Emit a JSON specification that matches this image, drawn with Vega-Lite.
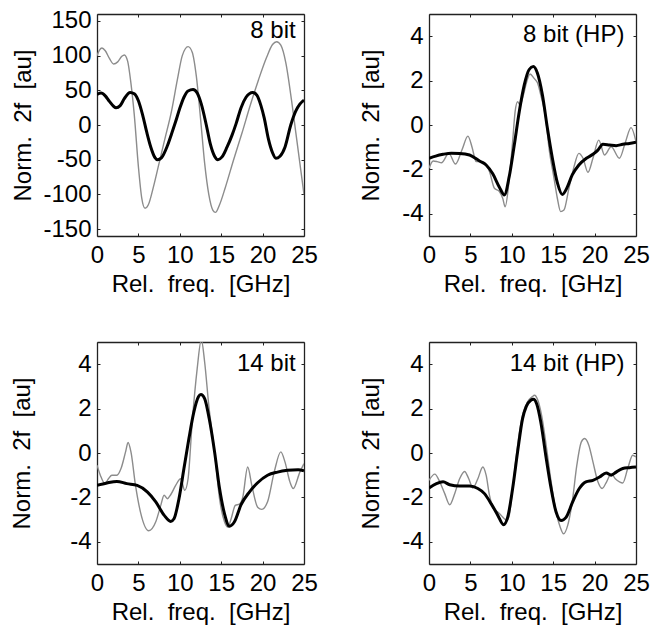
{
  "$schema": "https://vega.github.io/schema/vega-lite/v6.json",
  "padding": {"left": 10, "top": 8, "right": 5, "bottom": 5},
  "background": "white",
  "columns": 2,
  "bounds": "flush",
  "spacing": {"row": 106, "column": 125},
  "datasets": {
    "curves": [
      {"p":"a","s":"g","x":0,"y":100},{"p":"a","s":"g","x":0.3,"y":108},{"p":"a","s":"g","x":0.6,"y":111},{"p":"a","s":"g","x":1.0,"y":107},{"p":"a","s":"g","x":1.5,"y":96},{"p":"a","s":"g","x":2.0,"y":88},{"p":"a","s":"g","x":2.5,"y":91},{"p":"a","s":"g","x":3.0,"y":99},{"p":"a","s":"g","x":3.3,"y":101},{"p":"a","s":"g","x":3.7,"y":92},{"p":"a","s":"g","x":4.1,"y":60},{"p":"a","s":"g","x":4.5,"y":15},{"p":"a","s":"g","x":5.0,"y":-60},{"p":"a","s":"g","x":5.4,"y":-105},{"p":"a","s":"g","x":5.8,"y":-120},{"p":"a","s":"g","x":6.2,"y":-115},{"p":"a","s":"g","x":6.8,"y":-90},{"p":"a","s":"g","x":7.5,"y":-55},{"p":"a","s":"g","x":8.2,"y":-20},{"p":"a","s":"g","x":9.0,"y":20},{"p":"a","s":"g","x":9.7,"y":65},{"p":"a","s":"g","x":10.3,"y":100},{"p":"a","s":"g","x":11.0,"y":113},{"p":"a","s":"g","x":11.5,"y":105},{"p":"a","s":"g","x":12.0,"y":70},{"p":"a","s":"g","x":12.5,"y":10},{"p":"a","s":"g","x":13.0,"y":-55},{"p":"a","s":"g","x":13.5,"y":-100},{"p":"a","s":"g","x":14.0,"y":-123},{"p":"a","s":"g","x":14.3,"y":-126},{"p":"a","s":"g","x":14.8,"y":-115},{"p":"a","s":"g","x":15.5,"y":-90},{"p":"a","s":"g","x":16.5,"y":-50},{"p":"a","s":"g","x":17.5,"y":-12},{"p":"a","s":"g","x":18.5,"y":28},{"p":"a","s":"g","x":19.5,"y":65},{"p":"a","s":"g","x":20.5,"y":98},{"p":"a","s":"g","x":21.2,"y":116},{"p":"a","s":"g","x":21.7,"y":120},{"p":"a","s":"g","x":22.2,"y":115},{"p":"a","s":"g","x":22.8,"y":90},{"p":"a","s":"g","x":23.5,"y":35},{"p":"a","s":"g","x":24.0,"y":-10},{"p":"a","s":"g","x":24.5,"y":-55},{"p":"a","s":"g","x":25.0,"y":-100},
      {"p":"a","s":"k","x":0,"y":44},{"p":"a","s":"k","x":0.5,"y":46},{"p":"a","s":"k","x":1,"y":42},{"p":"a","s":"k","x":1.5,"y":34},{"p":"a","s":"k","x":2,"y":27},{"p":"a","s":"k","x":2.3,"y":25},{"p":"a","s":"k","x":2.8,"y":28},{"p":"a","s":"k","x":3.3,"y":38},{"p":"a","s":"k","x":4,"y":47},{"p":"a","s":"k","x":4.5,"y":45},{"p":"a","s":"k","x":5,"y":35},{"p":"a","s":"k","x":5.5,"y":15},{"p":"a","s":"k","x":6,"y":-10},{"p":"a","s":"k","x":6.5,"y":-32},{"p":"a","s":"k","x":7,"y":-47},{"p":"a","s":"k","x":7.3,"y":-50},{"p":"a","s":"k","x":7.8,"y":-47},{"p":"a","s":"k","x":8.5,"y":-30},{"p":"a","s":"k","x":9,"y":-13},{"p":"a","s":"k","x":9.5,"y":5},{"p":"a","s":"k","x":10,"y":24},{"p":"a","s":"k","x":10.5,"y":40},{"p":"a","s":"k","x":11,"y":49},{"p":"a","s":"k","x":11.6,"y":51},{"p":"a","s":"k","x":12.1,"y":46},{"p":"a","s":"k","x":12.6,"y":30},{"p":"a","s":"k","x":13.2,"y":0},{"p":"a","s":"k","x":13.7,"y":-28},{"p":"a","s":"k","x":14.2,"y":-45},{"p":"a","s":"k","x":14.6,"y":-50},{"p":"a","s":"k","x":15.1,"y":-46},{"p":"a","s":"k","x":15.7,"y":-32},{"p":"a","s":"k","x":16.3,"y":-15},{"p":"a","s":"k","x":16.8,"y":2},{"p":"a","s":"k","x":17.4,"y":25},{"p":"a","s":"k","x":18,"y":40},{"p":"a","s":"k","x":18.8,"y":47},{"p":"a","s":"k","x":19.3,"y":43},{"p":"a","s":"k","x":19.8,"y":28},{"p":"a","s":"k","x":20.2,"y":10},{"p":"a","s":"k","x":20.7,"y":-20},{"p":"a","s":"k","x":21.2,"y":-40},{"p":"a","s":"k","x":21.6,"y":-48},{"p":"a","s":"k","x":22.1,"y":-45},{"p":"a","s":"k","x":22.7,"y":-32},{"p":"a","s":"k","x":23.4,"y":0},{"p":"a","s":"k","x":24,"y":20},{"p":"a","s":"k","x":24.5,"y":30},{"p":"a","s":"k","x":25,"y":36},
      {"p":"b","s":"g","x":0,"y":-1.95},{"p":"b","s":"g","x":0.5,"y":-1.62},{"p":"b","s":"g","x":1.0,"y":-1.65},{"p":"b","s":"g","x":1.5,"y":-1.7},{"p":"b","s":"g","x":2.4,"y":-1.28},{"p":"b","s":"g","x":3.2,"y":-1.76},{"p":"b","s":"g","x":4.0,"y":-1.1},{"p":"b","s":"g","x":4.7,"y":-0.5},{"p":"b","s":"g","x":5.2,"y":-1.0},{"p":"b","s":"g","x":5.7,"y":-1.65},{"p":"b","s":"g","x":6.5,"y":-1.65},{"p":"b","s":"g","x":7.3,"y":-2.1},{"p":"b","s":"g","x":7.9,"y":-2.85},{"p":"b","s":"g","x":8.5,"y":-3.0},{"p":"b","s":"g","x":8.9,"y":-3.3},{"p":"b","s":"g","x":9.2,"y":-3.68},{"p":"b","s":"g","x":9.7,"y":-2.4},{"p":"b","s":"g","x":10.1,"y":-0.75},{"p":"b","s":"g","x":10.4,"y":0.6},{"p":"b","s":"g","x":10.7,"y":1.05},{"p":"b","s":"g","x":11.0,"y":0.9},{"p":"b","s":"g","x":11.4,"y":1.35},{"p":"b","s":"g","x":11.8,"y":1.95},{"p":"b","s":"g","x":12.2,"y":2.3},{"p":"b","s":"g","x":12.7,"y":2.1},{"p":"b","s":"g","x":13.1,"y":1.9},{"p":"b","s":"g","x":13.5,"y":1.35},{"p":"b","s":"g","x":14.1,"y":0.3},{"p":"b","s":"g","x":14.5,"y":-1.05},{"p":"b","s":"g","x":15.1,"y":-2.4},{"p":"b","s":"g","x":15.5,"y":-3.3},{"p":"b","s":"g","x":15.9,"y":-3.9},{"p":"b","s":"g","x":16.3,"y":-3.83},{"p":"b","s":"g","x":16.9,"y":-2.85},{"p":"b","s":"g","x":17.5,"y":-1.9},{"p":"b","s":"g","x":18.1,"y":-1.28},{"p":"b","s":"g","x":18.6,"y":-1.5},{"p":"b","s":"g","x":19.2,"y":-2.13},{"p":"b","s":"g","x":19.8,"y":-1.5},{"p":"b","s":"g","x":20.5,"y":-0.68},{"p":"b","s":"g","x":21.2,"y":-1.35},{"p":"b","s":"g","x":22.0,"y":-0.98},{"p":"b","s":"g","x":23.0,"y":-1.5},{"p":"b","s":"g","x":23.7,"y":-0.8},{"p":"b","s":"g","x":24.4,"y":-0.12},{"p":"b","s":"g","x":25,"y":-0.75},
      {"p":"b","s":"k","x":0,"y":-1.5},{"p":"b","s":"k","x":0.8,"y":-1.4},{"p":"b","s":"k","x":1.7,"y":-1.32},{"p":"b","s":"k","x":2.7,"y":-1.27},{"p":"b","s":"k","x":3.7,"y":-1.28},{"p":"b","s":"k","x":4.9,"y":-1.35},{"p":"b","s":"k","x":6.1,"y":-1.62},{"p":"b","s":"k","x":6.9,"y":-1.8},{"p":"b","s":"k","x":7.7,"y":-2.2},{"p":"b","s":"k","x":8.5,"y":-2.8},{"p":"b","s":"k","x":9.1,"y":-3.15},{"p":"b","s":"k","x":9.7,"y":-2.3},{"p":"b","s":"k","x":10.3,"y":-0.9},{"p":"b","s":"k","x":10.9,"y":0.6},{"p":"b","s":"k","x":11.5,"y":1.8},{"p":"b","s":"k","x":12.1,"y":2.5},{"p":"b","s":"k","x":12.6,"y":2.63},{"p":"b","s":"k","x":13.1,"y":2.33},{"p":"b","s":"k","x":13.7,"y":1.35},{"p":"b","s":"k","x":14.3,"y":-0.15},{"p":"b","s":"k","x":14.9,"y":-1.5},{"p":"b","s":"k","x":15.5,"y":-2.6},{"p":"b","s":"k","x":16.1,"y":-3.13},{"p":"b","s":"k","x":16.7,"y":-2.8},{"p":"b","s":"k","x":17.3,"y":-2.25},{"p":"b","s":"k","x":18.1,"y":-1.8},{"p":"b","s":"k","x":19.0,"y":-1.5},{"p":"b","s":"k","x":19.8,"y":-1.32},{"p":"b","s":"k","x":20.4,"y":-1.13},{"p":"b","s":"k","x":21.0,"y":-0.87},{"p":"b","s":"k","x":21.8,"y":-0.9},{"p":"b","s":"k","x":22.6,"y":-0.93},{"p":"b","s":"k","x":23.4,"y":-0.87},{"p":"b","s":"k","x":24.2,"y":-0.83},{"p":"b","s":"k","x":25,"y":-0.78},
      {"p":"c","s":"g","x":0,"y":-0.55},{"p":"c","s":"g","x":0.4,"y":-1.0},{"p":"c","s":"g","x":0.95,"y":-1.38},{"p":"c","s":"g","x":1.4,"y":-1.15},{"p":"c","s":"g","x":1.8,"y":-1.0},{"p":"c","s":"g","x":2.4,"y":-1.0},{"p":"c","s":"g","x":2.9,"y":-0.7},{"p":"c","s":"g","x":3.45,"y":0.05},{"p":"c","s":"g","x":3.75,"y":0.47},{"p":"c","s":"g","x":4.1,"y":0.05},{"p":"c","s":"g","x":4.65,"y":-1.46},{"p":"c","s":"g","x":5.25,"y":-2.66},{"p":"c","s":"g","x":6.25,"y":-3.5},{"p":"c","s":"g","x":7.1,"y":-3.1},{"p":"c","s":"g","x":7.7,"y":-2.36},{"p":"c","s":"g","x":8.1,"y":-1.9},{"p":"c","s":"g","x":8.5,"y":-2.06},{"p":"c","s":"g","x":8.9,"y":-1.88},{"p":"c","s":"g","x":9.5,"y":-1.46},{"p":"c","s":"g","x":10.1,"y":-1.16},{"p":"c","s":"g","x":10.6,"y":-1.68},{"p":"c","s":"g","x":11.0,"y":-1.16},{"p":"c","s":"g","x":11.5,"y":1.4},{"p":"c","s":"g","x":12.1,"y":3.8},{"p":"c","s":"g","x":12.6,"y":5.1},{"p":"c","s":"g","x":13.0,"y":4.1},{"p":"c","s":"g","x":13.5,"y":2.15},{"p":"c","s":"g","x":14.2,"y":0.05},{"p":"c","s":"g","x":14.8,"y":-2.06},{"p":"c","s":"g","x":15.4,"y":-3.1},{"p":"c","s":"g","x":15.8,"y":-3.34},{"p":"c","s":"g","x":16.2,"y":-2.96},{"p":"c","s":"g","x":16.7,"y":-2.36},{"p":"c","s":"g","x":17.2,"y":-2.3},{"p":"c","s":"g","x":17.6,"y":-2.0},{"p":"c","s":"g","x":18.2,"y":-0.63},{"p":"c","s":"g","x":18.7,"y":-1.46},{"p":"c","s":"g","x":19.4,"y":-2.44},{"p":"c","s":"g","x":19.9,"y":-2.54},{"p":"c","s":"g","x":20.6,"y":-2.2},{"p":"c","s":"g","x":21.4,"y":-0.86},{"p":"c","s":"g","x":22.2,"y":0.05},{"p":"c","s":"g","x":22.7,"y":-0.4},{"p":"c","s":"g","x":23.3,"y":-1.3},{"p":"c","s":"g","x":23.7,"y":-1.6},{"p":"c","s":"g","x":24.5,"y":-0.86},{"p":"c","s":"g","x":25,"y":-0.48},
      {"p":"c","s":"k","x":0,"y":-1.46},{"p":"c","s":"k","x":1.2,"y":-1.35},{"p":"c","s":"k","x":2.4,"y":-1.28},{"p":"c","s":"k","x":3.6,"y":-1.38},{"p":"c","s":"k","x":4.85,"y":-1.46},{"p":"c","s":"k","x":6.1,"y":-1.76},{"p":"c","s":"k","x":7.1,"y":-2.2},{"p":"c","s":"k","x":8.1,"y":-2.8},{"p":"c","s":"k","x":8.9,"y":-3.08},{"p":"c","s":"k","x":9.3,"y":-2.96},{"p":"c","s":"k","x":9.9,"y":-2.06},{"p":"c","s":"k","x":10.5,"y":-0.7},{"p":"c","s":"k","x":11.1,"y":0.65},{"p":"c","s":"k","x":11.7,"y":1.85},{"p":"c","s":"k","x":12.25,"y":2.53},{"p":"c","s":"k","x":12.55,"y":2.63},{"p":"c","s":"k","x":13.0,"y":2.45},{"p":"c","s":"k","x":13.55,"y":1.55},{"p":"c","s":"k","x":14.2,"y":0.05},{"p":"c","s":"k","x":14.8,"y":-1.6},{"p":"c","s":"k","x":15.4,"y":-2.74},{"p":"c","s":"k","x":16.0,"y":-3.3},{"p":"c","s":"k","x":16.6,"y":-3.1},{"p":"c","s":"k","x":17.4,"y":-2.33},{"p":"c","s":"k","x":18.4,"y":-1.76},{"p":"c","s":"k","x":19.4,"y":-1.34},{"p":"c","s":"k","x":20.6,"y":-1.0},{"p":"c","s":"k","x":21.8,"y":-0.86},{"p":"c","s":"k","x":23.0,"y":-0.78},{"p":"c","s":"k","x":24.3,"y":-0.75},{"p":"c","s":"k","x":25,"y":-0.8},
      {"p":"d","s":"g","x":0,"y":-1.23},{"p":"d","s":"g","x":0.7,"y":-0.95},{"p":"d","s":"g","x":1.3,"y":-1.3},{"p":"d","s":"g","x":1.9,"y":-1.83},{"p":"d","s":"g","x":2.5,"y":-2.33},{"p":"d","s":"g","x":3.1,"y":-1.83},{"p":"d","s":"g","x":3.7,"y":-1.16},{"p":"d","s":"g","x":4.3,"y":-0.83},{"p":"d","s":"g","x":4.8,"y":-1.16},{"p":"d","s":"g","x":5.3,"y":-1.58},{"p":"d","s":"g","x":5.9,"y":-1.16},{"p":"d","s":"g","x":6.5,"y":-0.63},{"p":"d","s":"g","x":6.9,"y":-1.0},{"p":"d","s":"g","x":7.3,"y":-1.9},{"p":"d","s":"g","x":7.8,"y":-2.5},{"p":"d","s":"g","x":8.3,"y":-2.66},{"p":"d","s":"g","x":8.7,"y":-2.8},{"p":"d","s":"g","x":9.1,"y":-2.96},{"p":"d","s":"g","x":9.4,"y":-3.04},{"p":"d","s":"g","x":9.7,"y":-2.8},{"p":"d","s":"g","x":10.1,"y":-1.6},{"p":"d","s":"g","x":10.7,"y":0.35},{"p":"d","s":"g","x":11.3,"y":1.7},{"p":"d","s":"g","x":11.9,"y":2.3},{"p":"d","s":"g","x":12.45,"y":2.53},{"p":"d","s":"g","x":12.75,"y":2.6},{"p":"d","s":"g","x":13.1,"y":2.42},{"p":"d","s":"g","x":13.6,"y":1.7},{"p":"d","s":"g","x":14.15,"y":0.35},{"p":"d","s":"g","x":14.75,"y":-1.3},{"p":"d","s":"g","x":15.35,"y":-2.66},{"p":"d","s":"g","x":15.85,"y":-3.34},{"p":"d","s":"g","x":16.25,"y":-3.64},{"p":"d","s":"g","x":16.75,"y":-3.26},{"p":"d","s":"g","x":17.3,"y":-2.2},{"p":"d","s":"g","x":17.85,"y":-0.56},{"p":"d","s":"g","x":18.4,"y":0.5},{"p":"d","s":"g","x":18.8,"y":0.65},{"p":"d","s":"g","x":19.3,"y":0.35},{"p":"d","s":"g","x":19.8,"y":-0.4},{"p":"d","s":"g","x":20.4,"y":-1.3},{"p":"d","s":"g","x":20.9,"y":-1.6},{"p":"d","s":"g","x":21.45,"y":-1.3},{"p":"d","s":"g","x":22.0,"y":-0.93},{"p":"d","s":"g","x":22.5,"y":-1.16},{"p":"d","s":"g","x":23.0,"y":-1.3},{"p":"d","s":"g","x":23.4,"y":-1.35},{"p":"d","s":"g","x":24.0,"y":-0.7},{"p":"d","s":"g","x":24.6,"y":-0.1},{"p":"d","s":"g","x":25,"y":-0.18},
      {"p":"d","s":"k","x":0,"y":-1.58},{"p":"d","s":"k","x":0.9,"y":-1.38},{"p":"d","s":"k","x":1.7,"y":-1.3},{"p":"d","s":"k","x":2.5,"y":-1.43},{"p":"d","s":"k","x":3.7,"y":-1.49},{"p":"d","s":"k","x":4.9,"y":-1.49},{"p":"d","s":"k","x":5.9,"y":-1.6},{"p":"d","s":"k","x":6.7,"y":-1.83},{"p":"d","s":"k","x":7.5,"y":-2.28},{"p":"d","s":"k","x":8.3,"y":-2.8},{"p":"d","s":"k","x":9.0,"y":-3.23},{"p":"d","s":"k","x":9.5,"y":-2.9},{"p":"d","s":"k","x":10.1,"y":-1.6},{"p":"d","s":"k","x":10.7,"y":0.05},{"p":"d","s":"k","x":11.3,"y":1.55},{"p":"d","s":"k","x":11.75,"y":2.1},{"p":"d","s":"k","x":12.3,"y":2.38},{"p":"d","s":"k","x":12.6,"y":2.42},{"p":"d","s":"k","x":13.0,"y":2.22},{"p":"d","s":"k","x":13.5,"y":1.4},{"p":"d","s":"k","x":14.1,"y":-0.1},{"p":"d","s":"k","x":14.75,"y":-1.6},{"p":"d","s":"k","x":15.35,"y":-2.66},{"p":"d","s":"k","x":15.95,"y":-3.04},{"p":"d","s":"k","x":16.55,"y":-2.9},{"p":"d","s":"k","x":17.35,"y":-2.2},{"p":"d","s":"k","x":18.15,"y":-1.6},{"p":"d","s":"k","x":18.95,"y":-1.3},{"p":"d","s":"k","x":19.8,"y":-1.23},{"p":"d","s":"k","x":20.6,"y":-1.08},{"p":"d","s":"k","x":21.4,"y":-0.9},{"p":"d","s":"k","x":22.0,"y":-1.0},{"p":"d","s":"k","x":22.6,"y":-0.86},{"p":"d","s":"k","x":23.4,"y":-0.7},{"p":"d","s":"k","x":24.2,"y":-0.66},{"p":"d","s":"k","x":25,"y":-0.63}
    ]
  },
  "concat": [
    {
      "width": 207, "height": 222,
      "resolve": {"axis": {"x": "independent", "y": "independent"}},
      "layer": [
        {
          "data": {"name": "curves"},
          "transform": [{"filter": "datum.p == 'a' && datum.s == 'g'"}],
          "mark": {"type": "line", "color": "#8c8c8c", "strokeWidth": 1.4, "interpolate": "monotone", "clip": true},
          "encoding": {
            "x": {"field": "x", "type": "quantitative", "scale": {"domain": [0, 25], "nice": false, "zero": false},
                  "axis": {"orient": "bottom", "values": [0, 5, 10, 15, 20, 25], "title": "Rel.\u00a0 freq.\u00a0 [GHz]", "labelPadding": 10, "titlePadding": 5}},
            "y": {"field": "y", "type": "quantitative", "scale": {"domain": [-160, 160], "nice": false},
                  "axis": {"orient": "left", "values": [-150, -100, -50, 0, 50, 100, 150], "title": "Norm.\u00a0 2f\u00a0 [au]", "labelPadding": 9, "titlePadding": 7, "labelExpr": "'' + datum.value"}}
          }
        },
        {
          "data": {"name": "curves"},
          "transform": [{"filter": "datum.p == 'a' && datum.s == 'k'"}],
          "mark": {"type": "line", "color": "#000000", "strokeWidth": 3, "interpolate": "monotone", "clip": true},
          "encoding": {
            "x": {"field": "x", "type": "quantitative", "scale": {"domain": [0, 25], "nice": false, "zero": false},
                  "axis": {"orient": "top", "values": [0, 5, 10, 15, 20, 25], "title": null, "labels": false}},
            "y": {"field": "y", "type": "quantitative", "scale": {"domain": [-160, 160], "nice": false},
                  "axis": {"orient": "right", "values": [-150, -100, -50, 0, 50, 100, 150], "title": null, "labels": false}}
          }
        },
        {
          "data": {"values": [{"x": 24.0, "y": 135, "t": "8 bit"}]},
          "mark": {"type": "text", "align": "right", "baseline": "middle", "fontSize": 24, "color": "black"},
          "encoding": {
            "x": {"field": "x", "type": "quantitative", "scale": {"domain": [0, 25], "nice": false, "zero": false}, "axis": null},
            "y": {"field": "y", "type": "quantitative", "scale": {"domain": [-160, 160], "nice": false}, "axis": null},
            "text": {"field": "t"}
          }
        }
      ]
    },
    {
      "width": 207, "height": 222,
      "resolve": {"axis": {"x": "independent", "y": "independent"}},
      "layer": [
        {
          "data": {"name": "curves"},
          "transform": [{"filter": "datum.p == 'b' && datum.s == 'g'"}],
          "mark": {"type": "line", "color": "#8c8c8c", "strokeWidth": 1.4, "interpolate": "monotone", "clip": true},
          "encoding": {
            "x": {"field": "x", "type": "quantitative", "scale": {"domain": [0, 25], "nice": false, "zero": false},
                  "axis": {"orient": "bottom", "values": [0, 5, 10, 15, 20, 25], "title": "Rel.\u00a0 freq.\u00a0 [GHz]", "labelPadding": 10, "titlePadding": 5}},
            "y": {"field": "y", "type": "quantitative", "scale": {"domain": [-5, 5], "nice": false},
                  "axis": {"orient": "left", "values": [-4, -2, 0, 2, 4], "title": "Norm.\u00a0 2f\u00a0 [au]", "labelPadding": 9, "titlePadding": 18, "labelExpr": "'' + datum.value"}}
          }
        },
        {
          "data": {"name": "curves"},
          "transform": [{"filter": "datum.p == 'b' && datum.s == 'k'"}],
          "mark": {"type": "line", "color": "#000000", "strokeWidth": 3, "interpolate": "monotone", "clip": true},
          "encoding": {
            "x": {"field": "x", "type": "quantitative", "scale": {"domain": [0, 25], "nice": false, "zero": false},
                  "axis": {"orient": "top", "values": [0, 5, 10, 15, 20, 25], "title": null, "labels": false}},
            "y": {"field": "y", "type": "quantitative", "scale": {"domain": [-5, 5], "nice": false},
                  "axis": {"orient": "right", "values": [-4, -2, 0, 2, 4], "title": null, "labels": false}}
          }
        },
        {
          "data": {"values": [{"x": 23.6, "y": 4.05, "t": "8 bit (HP)"}]},
          "mark": {"type": "text", "align": "right", "baseline": "middle", "fontSize": 24, "color": "black"},
          "encoding": {
            "x": {"field": "x", "type": "quantitative", "scale": {"domain": [0, 25], "nice": false, "zero": false}, "axis": null},
            "y": {"field": "y", "type": "quantitative", "scale": {"domain": [-5, 5], "nice": false}, "axis": null},
            "text": {"field": "t"}
          }
        }
      ]
    },
    {
      "width": 207, "height": 222,
      "resolve": {"axis": {"x": "independent", "y": "independent"}},
      "layer": [
        {
          "data": {"name": "curves"},
          "transform": [{"filter": "datum.p == 'c' && datum.s == 'g'"}],
          "mark": {"type": "line", "color": "#8c8c8c", "strokeWidth": 1.4, "interpolate": "monotone", "clip": true},
          "encoding": {
            "x": {"field": "x", "type": "quantitative", "scale": {"domain": [0, 25], "nice": false, "zero": false},
                  "axis": {"orient": "bottom", "values": [0, 5, 10, 15, 20, 25], "title": "Rel.\u00a0 freq.\u00a0 [GHz]", "labelPadding": 10, "titlePadding": 5}},
            "y": {"field": "y", "type": "quantitative", "scale": {"domain": [-5, 5], "nice": false},
                  "axis": {"orient": "left", "values": [-4, -2, 0, 2, 4], "title": "Norm.\u00a0 2f\u00a0 [au]", "labelPadding": 9, "titlePadding": 35, "labelExpr": "'' + datum.value"}}
          }
        },
        {
          "data": {"name": "curves"},
          "transform": [{"filter": "datum.p == 'c' && datum.s == 'k'"}],
          "mark": {"type": "line", "color": "#000000", "strokeWidth": 3, "interpolate": "monotone", "clip": true},
          "encoding": {
            "x": {"field": "x", "type": "quantitative", "scale": {"domain": [0, 25], "nice": false, "zero": false},
                  "axis": {"orient": "top", "values": [0, 5, 10, 15, 20, 25], "title": null, "labels": false}},
            "y": {"field": "y", "type": "quantitative", "scale": {"domain": [-5, 5], "nice": false},
                  "axis": {"orient": "right", "values": [-4, -2, 0, 2, 4], "title": null, "labels": false}}
          }
        },
        {
          "data": {"values": [{"x": 24.0, "y": 4.0, "t": "14 bit"}]},
          "mark": {"type": "text", "align": "right", "baseline": "middle", "fontSize": 24, "color": "black"},
          "encoding": {
            "x": {"field": "x", "type": "quantitative", "scale": {"domain": [0, 25], "nice": false, "zero": false}, "axis": null},
            "y": {"field": "y", "type": "quantitative", "scale": {"domain": [-5, 5], "nice": false}, "axis": null},
            "text": {"field": "t"}
          }
        }
      ]
    },
    {
      "width": 207, "height": 222,
      "resolve": {"axis": {"x": "independent", "y": "independent"}},
      "layer": [
        {
          "data": {"name": "curves"},
          "transform": [{"filter": "datum.p == 'd' && datum.s == 'g'"}],
          "mark": {"type": "line", "color": "#8c8c8c", "strokeWidth": 1.4, "interpolate": "monotone", "clip": true},
          "encoding": {
            "x": {"field": "x", "type": "quantitative", "scale": {"domain": [0, 25], "nice": false, "zero": false},
                  "axis": {"orient": "bottom", "values": [0, 5, 10, 15, 20, 25], "title": "Rel.\u00a0 freq.\u00a0 [GHz]", "labelPadding": 10, "titlePadding": 5}},
            "y": {"field": "y", "type": "quantitative", "scale": {"domain": [-5, 5], "nice": false},
                  "axis": {"orient": "left", "values": [-4, -2, 0, 2, 4], "title": "Norm.\u00a0 2f\u00a0 [au]", "labelPadding": 9, "titlePadding": 18, "labelExpr": "'' + datum.value"}}
          }
        },
        {
          "data": {"name": "curves"},
          "transform": [{"filter": "datum.p == 'd' && datum.s == 'k'"}],
          "mark": {"type": "line", "color": "#000000", "strokeWidth": 3, "interpolate": "monotone", "clip": true},
          "encoding": {
            "x": {"field": "x", "type": "quantitative", "scale": {"domain": [0, 25], "nice": false, "zero": false},
                  "axis": {"orient": "top", "values": [0, 5, 10, 15, 20, 25], "title": null, "labels": false}},
            "y": {"field": "y", "type": "quantitative", "scale": {"domain": [-5, 5], "nice": false},
                  "axis": {"orient": "right", "values": [-4, -2, 0, 2, 4], "title": null, "labels": false}}
          }
        },
        {
          "data": {"values": [{"x": 23.6, "y": 4.0, "t": "14 bit (HP)"}]},
          "mark": {"type": "text", "align": "right", "baseline": "middle", "fontSize": 24, "color": "black"},
          "encoding": {
            "x": {"field": "x", "type": "quantitative", "scale": {"domain": [0, 25], "nice": false, "zero": false}, "axis": null},
            "y": {"field": "y", "type": "quantitative", "scale": {"domain": [-5, 5], "nice": false}, "axis": null},
            "text": {"field": "t"}
          }
        }
      ]
    }
  ],
  "config": {
    "font": "Liberation Sans",
    "view": {"stroke": null},
    "axis": {
      "grid": false,
      "labelFont": "Liberation Sans",
      "titleFont": "Liberation Sans",
      "labelFontSize": 24,
      "titleFontSize": 24,
      "titleFontWeight": "normal",
      "labelColor": "black",
      "titleColor": "black",
      "domainColor": "#222222",
      "domainWidth": 1.3,
      "tickColor": "#222222",
      "tickSize": -3,
      "tickWidth": 1,
      "labelFlush": false,
      "labelOverlap": false
    },
    "text": {"font": "Liberation Sans"}
  }
}
